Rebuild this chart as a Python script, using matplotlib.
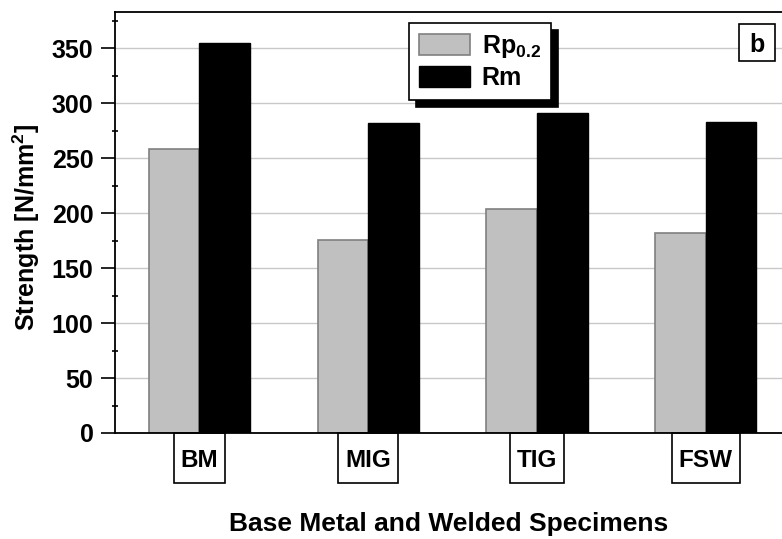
import matplotlib
matplotlib.use('Agg')
import matplotlib.pyplot as plt
import numpy as np
from matplotlib.patches import Rectangle
from matplotlib.ticker import MultipleLocator
from matplotlib.transforms import IdentityTransform

categories = ['BM', 'MIG', 'TIG', 'FSW']
rp02 = [258, 176, 204, 182]
rm = [355, 282, 291, 283]
series_labels = [r'Rp$_{0.2}$', 'Rm']
yticks = [0, 50, 100, 150, 200, 250, 300, 350]
panel_tag = 'b'
xlabel = 'Base Metal and Welded Specimens'
ylabel = r'Strength [N/mm$^{2}$]'

plt.rcParams['font.family'] = ['Liberation Sans', 'DejaVu Sans']
plt.rcParams['font.weight'] = 'bold'
plt.rcParams['mathtext.fontset'] = 'custom'
plt.rcParams['mathtext.rm'] = 'Liberation Sans:bold'
plt.rcParams['mathtext.bf'] = 'Liberation Sans:bold'
plt.rcParams['mathtext.it'] = 'Liberation Sans:bold'

W, H = 782, 539
fig = plt.figure(figsize=(W / 100, H / 100), dpi=100)
L, R, T, B = 115, 790, 12, 433
ax = fig.add_axes([L / W, 1 - B / H, (R - L) / W, (B - T) / H])

x = np.arange(len(categories))
w = 0.3
ax.bar(x - w / 2, rp02, w, color='#c0c0c0', edgecolor='#808080', linewidth=1.2,
       label=series_labels[0], zorder=2)
ax.bar(x + w / 2, rm, w, color='black', edgecolor='black', linewidth=1.0,
       label=series_labels[1], zorder=2)

ax.set_xlim(-0.5, 3.5)
ax.set_ylim(0, 383)
ax.set_yticks(yticks)
ax.yaxis.set_minor_locator(MultipleLocator(25))
ax.set_axisbelow(True)
ax.grid(axis='y', which='major', color='#c8c8c8', lw=1.0)

for s in ['left', 'top', 'bottom']:
    ax.spines[s].set_linewidth(1.3)
ax.spines['right'].set_visible(False)

ax.tick_params(axis='y', which='major', direction='out', length=10, width=1.2,
               labelsize=18, pad=5.5)
ax.tick_params(axis='y', which='minor', direction='inout', length=5, width=1.2)
ax.set_xticks(x, categories)
ax.tick_params(axis='x', length=0, labelsize=17.5, pad=11.5)

ax.set_ylabel(ylabel, fontsize=18, fontweight='bold')
ax.yaxis.set_label_coords(-0.108, 0.487)
ax.set_xlabel(xlabel, fontsize=19, fontweight='bold')
ax.xaxis.set_label_coords(0.4938, -0.1876)

leg = ax.legend(loc='upper left', bbox_to_anchor=(0.4356, 0.974), borderaxespad=0,
                fontsize=18, frameon=True, fancybox=False, edgecolor='black',
                framealpha=1, handlelength=2.05, handleheight=0.92, handletextpad=0.45,
                labelspacing=0.25, borderpad=0.4,
                shadow={'ox': 5, 'oy': -5, 'color': 'black', 'alpha': 1})
leg.get_frame().set_linewidth(1.2)

# panel tag box
fig.add_artist(Rectangle((739.3, H - 61), 775 - 739.3, 37, transform=IdentityTransform(),
                         facecolor='white', edgecolor='black', linewidth=1.2, zorder=3))
fig.text(757 / W, 1 - 51.7 / H, panel_tag, ha='center', va='baseline', fontsize=18,
         fontweight='bold', zorder=4)

# boxes around category labels
fig.canvas.draw()
renderer = fig.canvas.get_renderer()
for lab in ax.get_xticklabels():
    bb = lab.get_window_extent(renderer)
    fig.add_artist(Rectangle((bb.x0 - 7, H - 483), bb.width + 14, 50,
                             transform=IdentityTransform(), fill=False,
                             edgecolor='black', linewidth=1.2))

fig.savefig('out.png', dpi=100)
